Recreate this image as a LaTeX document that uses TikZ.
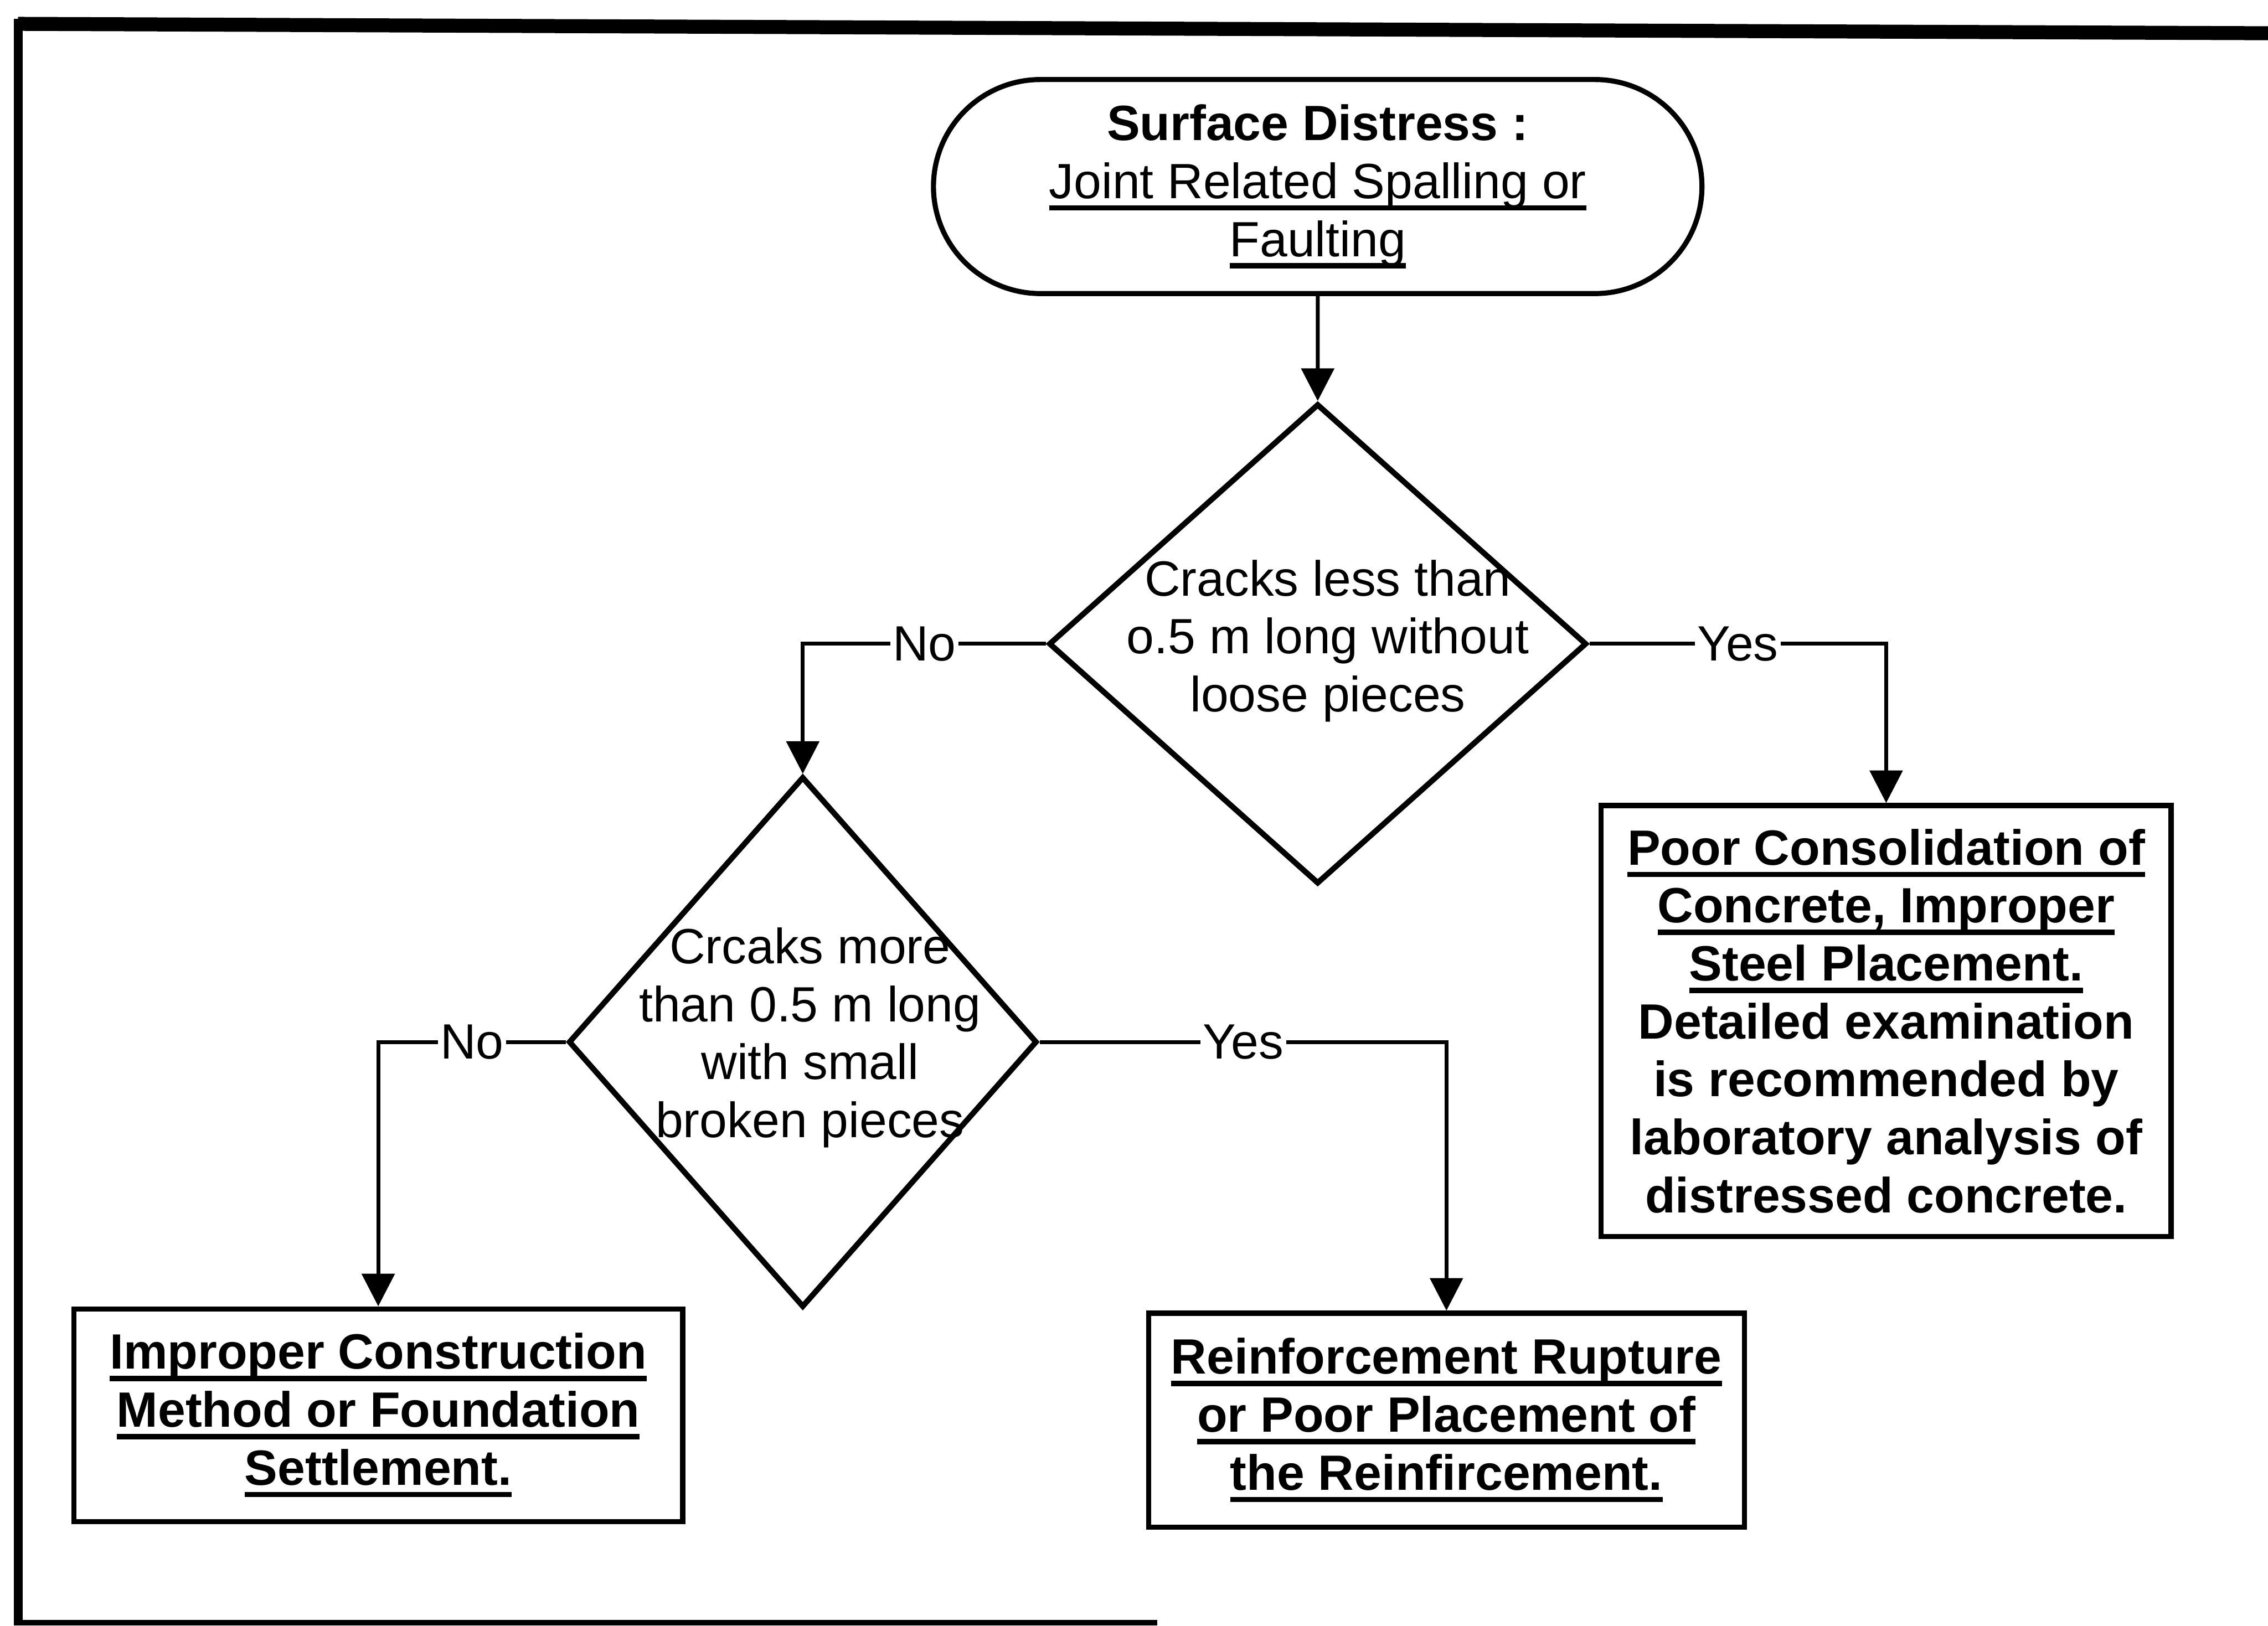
\documentclass[tikz,border=0pt]{standalone}
\usepackage{fontspec}
\setmainfont{Liberation Sans}
\usepackage{tikz}
\usetikzlibrary{arrows.meta}
\usetikzlibrary{shapes.geometric,shapes.misc,positioning}

% one underlined line of text, with a heavy rule
\newsavebox{\ullinebox}
\newcommand{\ulline}[1]{\sbox{\ullinebox}{#1}\rlap{\usebox{\ullinebox}}\rule[-4.8pt]{\wd\ullinebox}{2.1pt}}

\begin{document}
\begin{tikzpicture}[
    every node/.style={font=\fontsize{19.5pt}{22.8pt}\selectfont, align=center},
    terminal/.style={rounded rectangle, draw, line width=2pt, minimum width=10.86cm, minimum height=2.96cm},
    decision/.style={diamond, draw, line width=2.2pt, inner sep=0pt},
    outcome/.style={rectangle, draw, line width=2pt, inner sep=2pt, font=\fontsize{19.5pt}{22.8pt}\selectfont\bfseries},
    flow/.style={line width=1.5pt, -{Triangle[length=0.45cm, width=0.45cm]}},
    answer/.style={fill=white, inner sep=1pt},
]
\useasboundingbox (0,0) rectangle (31.36,22.48);

% frame (open on the right)
\draw[line width=5.5pt] (31.36,22.02) -- (0.25,22.15);
\draw[line width=3.5pt] (0.25,22.22) -- (0.25,0.04);
\draw[line width=2pt] (0.19,0.04) -- (16.0,0.04);

% start and the two questions
\node[terminal] (start) at (18.22,19.90) {\textbf{Surface Distress :}\\ \ulline{Joint Related Spalling or}\\ \ulline{Faulting}};
\node[decision, minimum width=7.44cm, minimum height=6.64cm, below=1.45cm of start] (q1) {};
\node[xshift=0.14cm, yshift=0.04cm] (q1-text) at (q1) {Cracks less than\\ o.5 m long without\\ loose pieces};
\node[decision, minimum width=6.48cm, minimum height=7.34cm] (q2) at (11.10,8.07) {};
\node[xshift=0.1cm, yshift=0.06cm] (q2-text) at (q2) {Crcaks more\\ than 0.5 m long\\ with small\\ broken pieces};

% causes
\node[outcome, minimum width=7.88cm, minimum height=5.96cm] (poor) at (26.08,8.36) {\ulline{Poor Consolidation of}\\ \ulline{Concrete, Improper}\\ \ulline{Steel Placement.}\\ Detailed examination\\ is recommended by\\ laboratory analysis of\\ distressed concrete.};
\node[outcome, minimum width=8.42cm, minimum height=2.94cm] (improper) at (5.23,2.91) {\ulline{Improper Construction}\\ \ulline{Method or Foundation}\\ \ulline{Settlement.}};
\node[outcome, minimum width=8.24cm, minimum height=2.96cm] (rupture) at (20.0,2.84) {\ulline{Reinforcement Rupture}\\ \ulline{or Poor Placement of}\\ \ulline{the Reinfircement.}};

% connectors
\draw[flow] (start) -- (q1);
\draw[flow] (q1.west) -| node[answer, pos=0.25] (no1) {No} (q2.north);
\draw[flow] (q1.east) -| node[answer, pos=0.25] (yes1) {Yes} (poor.north);
\draw[flow] (q2.west) -| node[answer, pos=0.25] (no2) {No} (improper.north);
\draw[flow] (q2.east) -| node[answer, pos=0.25] (yes2) {Yes} (rupture.north);
\end{tikzpicture}
\end{document}
